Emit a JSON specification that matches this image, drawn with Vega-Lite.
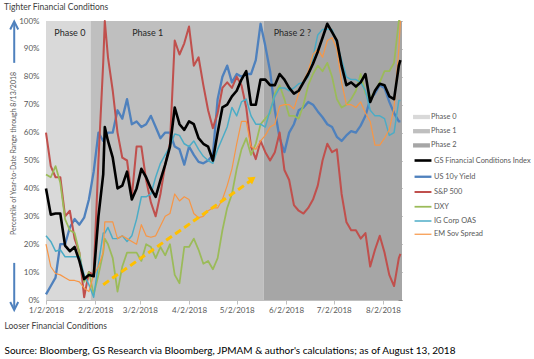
{
  "$schema": "https://vega.github.io/schema/vega-lite/v6.json",
  "width": 356,
  "height": 279,
  "autosize": {"type": "none"},
  "padding": {"left": 46, "top": 21, "right": 132, "bottom": 59},
  "background": "#ffffff",
  "title": {"text": "Tighter Financial Conditions", "orient": "top", "anchor": "start", "frame": "group", "dx": -42, "offset": 6, "fontSize": 8.5, "fontWeight": "normal", "color": "#404040"},
  "config": {
    "font": "Lato",
    "view": {"stroke": null},
    "axis": {"grid": false, "labelFontSize": 8, "labelColor": "#595959", "titleFontWeight": "normal", "domainColor": "#bfbfbf", "tickColor": "#bfbfbf"},
    "legend": {"labelFontSize": 7.4, "labelColor": "#595959", "padding": 0, "labelOffset": 3, "symbolSize": 169}
  },
  "datasets": {
    "phases": [
      {"phase": "Phase 0", "start": "2018-01-02", "end": "2018-01-30"},
      {"phase": "Phase 1", "start": "2018-01-30", "end": "2018-05-19"},
      {"phase": "Phase 2", "start": "2018-05-19", "end": "2018-08-14"}
    ],
    "labels": [
      {"label": "Phase 0", "d": "2018-01-17", "v": 95.7},
      {"label": "Phase 1", "d": "2018-03-07", "v": 95.7},
      {"label": "Phase 2 ?", "d": "2018-06-06", "v": 95.7}
    ],
    "trend": [{"d1": "2018-02-07", "v1": 5.5, "d2": "2018-05-11", "v2": 42.8}],
    "trendHead": [{"d": "2018-05-12", "v": 43.4}],
    "axisArrows": [
      {"d1": "2017-12-13", "v1": 85, "d2": "2017-12-13", "v2": 99.3},
      {"d1": "2017-12-13", "v1": 13.3, "d2": "2017-12-13", "v2": -3.3}
    ],
    "axisHeads": [
      {"d": "2017-12-13", "v": 98.4, "dir": "up"},
      {"d": "2017-12-13", "v": -2.15, "dir": "down"}
    ],
    "series": [
      {"date": "2018-01-02", "gs": 40, "ust": 2, "spx": 60, "dxy": 45, "ig": 23, "em": 20},
      {"date": "2018-01-05", "gs": 30.6, "ust": 5, "spx": 48, "dxy": 44, "ig": 21, "em": 12},
      {"date": "2018-01-08", "gs": 31, "ust": 8, "spx": 44, "dxy": 48, "ig": 17.5, "em": 9.5},
      {"date": "2018-01-11", "gs": 31, "ust": 20, "spx": 44, "dxy": 42, "ig": 18, "em": 9},
      {"date": "2018-01-14", "gs": 19.5, "ust": 20, "spx": 30, "dxy": 29, "ig": 15.5, "em": 8},
      {"date": "2018-01-17", "gs": 17.5, "ust": 26, "spx": 32, "dxy": 25, "ig": 15.5, "em": 7},
      {"date": "2018-01-20", "gs": 19, "ust": 29, "spx": 22, "dxy": 24, "ig": 15.5, "em": 7},
      {"date": "2018-01-23", "gs": 14, "ust": 27, "spx": 17, "dxy": 17, "ig": 15.5, "em": 6.5},
      {"date": "2018-01-26", "gs": 7.5, "ust": 29.5, "spx": 1, "dxy": 6.5, "ig": 9, "em": 4.3},
      {"date": "2018-01-29", "gs": 9, "ust": 36, "spx": 10, "dxy": 10, "ig": 5.5, "em": 3},
      {"date": "2018-02-01", "gs": 8.5, "ust": 46, "spx": 9, "dxy": 2, "ig": 1, "em": 9},
      {"date": "2018-02-04", "gs": 30, "ust": 60, "spx": 50, "dxy": 9, "ig": 13, "em": 12},
      {"date": "2018-02-07", "gs": 45, "ust": 57, "spx": 85, "dxy": 17, "ig": 24, "em": 17},
      {"date": "2018-02-08", "gs": 62, "ust": 58, "spx": 100, "dxy": 22, "ig": 24, "em": 28},
      {"date": "2018-02-10", "gs": 57, "ust": 60, "spx": 87, "dxy": 20, "ig": 26, "em": 28},
      {"date": "2018-02-13", "gs": 51, "ust": 60, "spx": 75, "dxy": 15, "ig": 22, "em": 28},
      {"date": "2018-02-16", "gs": 40, "ust": 68, "spx": 60, "dxy": 3, "ig": 22, "em": 22},
      {"date": "2018-02-19", "gs": 41, "ust": 65, "spx": 51, "dxy": 12, "ig": 23, "em": 23},
      {"date": "2018-02-22", "gs": 46, "ust": 72, "spx": 50, "dxy": 17, "ig": 21, "em": 22},
      {"date": "2018-02-25", "gs": 36, "ust": 63, "spx": 37, "dxy": 17, "ig": 23, "em": 21},
      {"date": "2018-02-28", "gs": 40, "ust": 64, "spx": 55, "dxy": 17, "ig": 29, "em": 20},
      {"date": "2018-03-03", "gs": 47, "ust": 62, "spx": 55, "dxy": 14, "ig": 37, "em": 27},
      {"date": "2018-03-06", "gs": 44, "ust": 63, "spx": 43, "dxy": 20, "ig": 37, "em": 23},
      {"date": "2018-03-09", "gs": 40, "ust": 66, "spx": 35, "dxy": 19, "ig": 38, "em": 22.5},
      {"date": "2018-03-12", "gs": 37, "ust": 62, "spx": 30, "dxy": 15, "ig": 44, "em": 23},
      {"date": "2018-03-15", "gs": 43, "ust": 58, "spx": 38, "dxy": 19, "ig": 49, "em": 26.5},
      {"date": "2018-03-18", "gs": 48.5, "ust": 60, "spx": 48.5, "dxy": 16, "ig": 52, "em": 30},
      {"date": "2018-03-21", "gs": 55, "ust": 60, "spx": 56, "dxy": 20, "ig": 55, "em": 31},
      {"date": "2018-03-24", "gs": 69, "ust": 55, "spx": 93, "dxy": 9, "ig": 59.5, "em": 38},
      {"date": "2018-03-27", "gs": 63, "ust": 54, "spx": 88, "dxy": 6, "ig": 59, "em": 35.5},
      {"date": "2018-03-30", "gs": 61, "ust": 48.5, "spx": 92, "dxy": 19, "ig": 56, "em": 37},
      {"date": "2018-04-02", "gs": 64, "ust": 55, "spx": 98, "dxy": 19, "ig": 55, "em": 36},
      {"date": "2018-04-05", "gs": 63, "ust": 52, "spx": 84, "dxy": 22, "ig": 57, "em": 31},
      {"date": "2018-04-08", "gs": 58, "ust": 49.5, "spx": 87, "dxy": 18, "ig": 54, "em": 29.5},
      {"date": "2018-04-11", "gs": 56, "ust": 49, "spx": 77, "dxy": 13, "ig": 51.5, "em": 30},
      {"date": "2018-04-14", "gs": 55, "ust": 50, "spx": 68, "dxy": 14, "ig": 50, "em": 32},
      {"date": "2018-04-17", "gs": 50, "ust": 52, "spx": 61.6, "dxy": 11, "ig": 49, "em": 33},
      {"date": "2018-04-20", "gs": 60, "ust": 72, "spx": 67, "dxy": 15, "ig": 54, "em": 33},
      {"date": "2018-04-23", "gs": 69, "ust": 80, "spx": 76, "dxy": 25, "ig": 58, "em": 36},
      {"date": "2018-04-26", "gs": 70, "ust": 84, "spx": 78, "dxy": 33, "ig": 62, "em": 41},
      {"date": "2018-04-29", "gs": 73, "ust": 78, "spx": 76, "dxy": 38, "ig": 69, "em": 47},
      {"date": "2018-05-02", "gs": 75, "ust": 81, "spx": 80, "dxy": 47, "ig": 66, "em": 56},
      {"date": "2018-05-05", "gs": 79, "ust": 80, "spx": 77, "dxy": 54, "ig": 71, "em": 64},
      {"date": "2018-05-08", "gs": 82, "ust": 81, "spx": 69, "dxy": 58, "ig": 72, "em": 64},
      {"date": "2018-05-11", "gs": 70, "ust": 81, "spx": 55, "dxy": 52, "ig": 66, "em": 55},
      {"date": "2018-05-14", "gs": 70, "ust": 86, "spx": 50.5, "dxy": 56, "ig": 63, "em": 54},
      {"date": "2018-05-17", "gs": 79, "ust": 99, "spx": 57, "dxy": 63, "ig": 63, "em": 57},
      {"date": "2018-05-20", "gs": 79, "ust": 91, "spx": 53, "dxy": 65, "ig": 62, "em": 59},
      {"date": "2018-05-23", "gs": 77, "ust": 82, "spx": 50, "dxy": 67, "ig": 68, "em": 62},
      {"date": "2018-05-26", "gs": 77, "ust": 68, "spx": 53, "dxy": 74, "ig": 73, "em": 63},
      {"date": "2018-05-29", "gs": 81, "ust": 58, "spx": 60, "dxy": 77, "ig": 76, "em": 69.5},
      {"date": "2018-06-01", "gs": 79, "ust": 53, "spx": 46.6, "dxy": 72, "ig": 76, "em": 70},
      {"date": "2018-06-04", "gs": 76, "ust": 60, "spx": 43, "dxy": 66, "ig": 75, "em": 70},
      {"date": "2018-06-07", "gs": 74, "ust": 63, "spx": 34, "dxy": 66, "ig": 76, "em": 68.5},
      {"date": "2018-06-10", "gs": 75, "ust": 68, "spx": 32, "dxy": 65, "ig": 77.5, "em": 74},
      {"date": "2018-06-13", "gs": 78, "ust": 69, "spx": 31, "dxy": 70, "ig": 78, "em": 78.5},
      {"date": "2018-06-16", "gs": 81, "ust": 71, "spx": 33, "dxy": 77, "ig": 80, "em": 82},
      {"date": "2018-06-19", "gs": 84.7, "ust": 70, "spx": 36, "dxy": 81, "ig": 87, "em": 88},
      {"date": "2018-06-22", "gs": 89, "ust": 67.6, "spx": 41, "dxy": 84, "ig": 95, "em": 90},
      {"date": "2018-06-25", "gs": 94, "ust": 65.5, "spx": 50, "dxy": 82, "ig": 97, "em": 87},
      {"date": "2018-06-28", "gs": 99, "ust": 63, "spx": 56, "dxy": 85, "ig": 97, "em": 93},
      {"date": "2018-07-01", "gs": 96, "ust": 62, "spx": 53, "dxy": 80, "ig": 97, "em": 94},
      {"date": "2018-07-04", "gs": 93, "ust": 58.5, "spx": 54, "dxy": 72, "ig": 92, "em": 90},
      {"date": "2018-07-07", "gs": 84, "ust": 57, "spx": 38, "dxy": 69, "ig": 86, "em": 78},
      {"date": "2018-07-10", "gs": 77, "ust": 59, "spx": 28, "dxy": 70, "ig": 80, "em": 70},
      {"date": "2018-07-13", "gs": 78, "ust": 60.5, "spx": 25, "dxy": 72, "ig": 79, "em": 70},
      {"date": "2018-07-16", "gs": 76.5, "ust": 60, "spx": 25, "dxy": 75, "ig": 79, "em": 69},
      {"date": "2018-07-19", "gs": 78, "ust": 62.5, "spx": 22, "dxy": 81, "ig": 78, "em": 71},
      {"date": "2018-07-22", "gs": 81, "ust": 66, "spx": 24, "dxy": 74, "ig": 75, "em": 67},
      {"date": "2018-07-25", "gs": 71, "ust": 72, "spx": 12, "dxy": 72, "ig": 68, "em": 64},
      {"date": "2018-07-28", "gs": 75, "ust": 74, "spx": 18, "dxy": 75, "ig": 66, "em": 55.5},
      {"date": "2018-07-31", "gs": 77.5, "ust": 77, "spx": 23, "dxy": 78, "ig": 66, "em": 55.5},
      {"date": "2018-08-03", "gs": 77, "ust": 76, "spx": 17, "dxy": 82, "ig": 65, "em": 58},
      {"date": "2018-08-06", "gs": 73, "ust": 71, "spx": 9, "dxy": 82, "ig": 59, "em": 61},
      {"date": "2018-08-09", "gs": 72, "ust": 67, "spx": 5, "dxy": 85, "ig": 60, "em": 69},
      {"date": "2018-08-12", "gs": 84, "ust": 64, "spx": 15, "dxy": 100, "ig": 71.5, "em": 90},
      {"date": "2018-08-13", "gs": 86, "ust": 64, "spx": 16.5, "dxy": 100, "ig": 71.5, "em": 100}
    ]
  },
  "resolve": {"axis": {"y": "independent"}},
  "layer": [
    {
      "data": {"name": "phases"},
      "mark": {"type": "rect"},
      "encoding": {
        "x": {"field": "start", "type": "temporal", "scale": {"type": "utc", "domain": [{"year": 2018, "month": 1, "date": 2, "utc": true}, {"year": 2018, "month": 8, "date": 14, "utc": true}]}},
        "x2": {"field": "end"},
        "y": {"datum": 0, "type": "quantitative", "scale": {"domain": [0, 100], "nice": false}, "axis": null},
        "y2": {"datum": 100},
        "fill": {
          "field": "phase", "type": "nominal",
          "scale": {"domain": ["Phase 0", "Phase 1", "Phase 2"], "range": ["#d9d9d9", "#bfbfbf", "#a6a6a6"]},
          "legend": {"orient": "none", "legendX": 369, "legendY": 89.5, "title": null, "rowPadding": 4.2, "symbolType": "M-1.3,-0.33H1.3V0.33H-1.3Z", "symbolStrokeWidth": 0}
        }
      }
    },
    {
      "data": {"name": "series"},
      "transform": [{"fold": ["ust", "spx", "dxy", "ig", "em", "gs"], "as": ["series", "value"]}],
      "mark": {"type": "line", "strokeJoin": "round"},
      "encoding": {
        "x": {
          "field": "date", "type": "temporal", "title": "Looser Financial Conditions",
          "scale": {"type": "utc", "domain": [{"year": 2018, "month": 1, "date": 2, "utc": true}, {"year": 2018, "month": 8, "date": 14, "utc": true}]},
          "axis": {
            "values": [
              {"year": 2018, "month": 1, "date": 2, "utc": true},
              {"year": 2018, "month": 2, "date": 2, "utc": true},
              {"year": 2018, "month": 3, "date": 2, "utc": true},
              {"year": 2018, "month": 4, "date": 2, "utc": true},
              {"year": 2018, "month": 5, "date": 2, "utc": true},
              {"year": 2018, "month": 6, "date": 2, "utc": true},
              {"year": 2018, "month": 7, "date": 2, "utc": true},
              {"year": 2018, "month": 8, "date": 2, "utc": true}
            ],
            "labelExpr": "utcFormat(datum.value, '%-m/%-d/%Y')",
            "tickSize": 4, "labelPadding": 2, "labelOverlap": false, "labelFlush": false,
            "titleX": -42, "titleY": 25, "titleAlign": "left", "titleBaseline": "middle",
            "titleFontSize": 8.5, "titleColor": "#404040"
          }
        },
        "y": {
          "field": "value", "type": "quantitative", "title": "Percentile of Year-to-Date Range through 8/13/2018",
          "scale": {"domain": [0, 100], "nice": false},
          "axis": {
            "orient": "left", "values": [0, 10, 20, 30, 40, 50, 60, 70, 80, 90, 100],
            "labelExpr": "datum.value + '%'", "ticks": false, "labelPadding": 7,
            "titleX": -33, "titleY": 132, "titleAlign": "center", "titleBaseline": "middle",
            "titleFontSize": 7, "titleColor": "#595959"
          }
        },
        "stroke": {
          "field": "series", "type": "nominal",
          "scale": {"domain": ["gs", "ust", "spx", "dxy", "ig", "em"], "range": ["#000000", "#4f81bd", "#c0504d", "#9bbb59", "#4bacc6", "#f79646"]},
          "legend": {
            "orient": "none", "legendX": 369, "legendY": 131.5, "title": null, "rowPadding": 2.25,
            "symbolType": "M-1.3,0H1.3", "symbolStrokeWidth": 1.5,
            "labelExpr": "{'gs': 'GS Financial Conditions Index', 'ust': 'US 10y Yield', 'spx': 'S&P 500', 'dxy': 'DXY', 'ig': 'IG Corp OAS', 'em': 'EM Sov Spread'}[datum.label]",
            "encode": {"symbols": {"update": {"strokeWidth": {"signal": "datum.value === 'gs' ? 2.5 : 1.5"}}}}
          }
        },
        "strokeWidth": {
          "field": "series", "type": "nominal",
          "scale": {"domain": ["gs", "ust", "spx", "dxy", "ig", "em"], "range": [2.6, 1.2, 1.2, 1.2, 1.2, 1.2]},
          "legend": null
        }
      }
    },
    {
      "data": {"name": "trend"},
      "mark": {"type": "rule", "color": "#ffc000", "strokeWidth": 3, "strokeDash": [7, 4]},
      "encoding": {
        "x": {"field": "d1", "type": "temporal"},
        "x2": {"field": "d2"},
        "y": {"field": "v1", "type": "quantitative", "axis": null},
        "y2": {"field": "v2"}
      }
    },
    {
      "data": {"name": "trendHead"},
      "mark": {"type": "point", "shape": "triangle-up", "filled": true, "color": "#ffc000", "size": 70, "angle": 55, "opacity": 1},
      "encoding": {
        "x": {"field": "d", "type": "temporal"},
        "y": {"field": "v", "type": "quantitative", "axis": null}
      }
    },
    {
      "data": {"name": "axisArrows"},
      "mark": {"type": "rule", "color": "#4f81bd", "strokeWidth": 2},
      "encoding": {
        "x": {"field": "d1", "type": "temporal"},
        "x2": {"field": "d2"},
        "y": {"field": "v1", "type": "quantitative", "axis": null},
        "y2": {"field": "v2"}
      }
    },
    {
      "data": {"name": "axisHeads"},
      "mark": {"type": "point", "filled": false, "color": "#4f81bd", "strokeWidth": 2, "size": 64, "opacity": 1},
      "encoding": {
        "x": {"field": "d", "type": "temporal"},
        "y": {"field": "v", "type": "quantitative", "axis": null},
        "shape": {"field": "dir", "type": "nominal", "scale": {"domain": ["up", "down"], "range": ["M-1,1L0,-1L1,1", "M-1,-1L0,1L1,-1"]}, "legend": null}
      }
    },
    {
      "data": {"name": "labels"},
      "mark": {"type": "text", "fontSize": 9, "color": "#262626", "align": "center", "baseline": "middle"},
      "encoding": {
        "x": {"field": "d", "type": "temporal"},
        "y": {
          "field": "v", "type": "quantitative",
          "title": "Source: Bloomberg, GS Research via Bloomberg, JPMAM & author's calculations;  as of August 13, 2018",
          "scale": {"domain": [0, 100], "nice": false},
          "axis": {
            "orient": "right", "values": [0, 10, 20, 30, 40, 50, 60, 70, 80, 90, 100],
            "labels": false, "domain": false, "ticks": true, "tickSize": -4, "tickColor": "#8c8c8c",
            "titleAngle": 0, "titleX": -398, "titleY": 329, "titleAlign": "left", "titleBaseline": "middle",
            "titleFontSize": 10, "titleColor": "#000000"
          }
        },
        "text": {"field": "label"}
      }
    }
  ]
}
